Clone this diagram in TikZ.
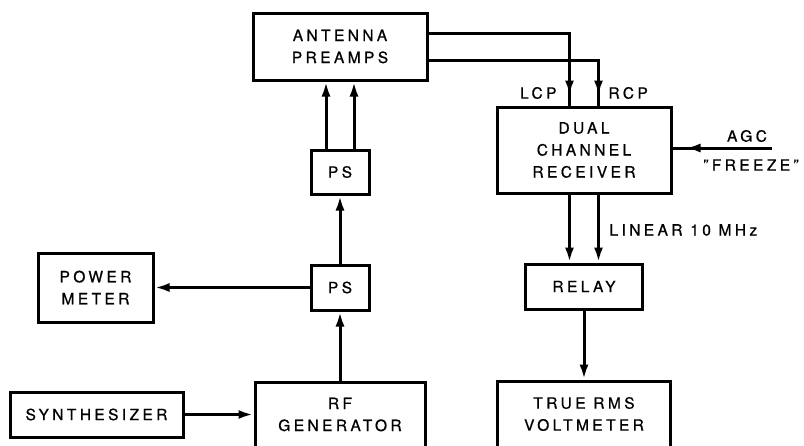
\documentclass[tikz,border=0pt]{standalone}
\usepackage{fontspec}
\setmainfont{TeX Gyre Heros}[LetterSpace=22,FakeBold=0.8]
\usetikzlibrary{arrows.meta,decorations.markings}

\tikzset{every picture/.style={line width=3pt}}
\tikzset{
  blk/.style={draw, line width=3pt, align=center, inner sep=0pt, font=\fontsize{15.5}{22}\selectfont},
  lbl/.style={inner sep=0pt, font=\fontsize{15.5}{22}\selectfont},
  link/.style={line width=3pt, -{Latex[length=15pt,width=9pt]}},
  tipat/.style={line width=3pt, postaction={decorate},
    decoration={markings, mark=at position #1 with {\arrow{Latex[length=15pt,width=9pt]}}}}
}

\begin{document}
\begin{tikzpicture}[x=1pt,y=1pt,yscale=-1,xscale=1]
    \useasboundingbox (0,0) rectangle (804,445);

    %Shape: Rectangle [blocks]
    \node [blk, minimum width=174, minimum height=67] (pre) at (340,46.5) {ANTENNA\\PREAMPS};
    \node [blk, minimum width=58, minimum height=44] (ps2) at (340,172) {PS};
    \node [blk, minimum width=58, minimum height=45] (ps1) at (340,287.5) {PS};
    \node [blk, minimum width=115, minimum height=69] (pm) at (95.5,287.5) {POWER\\METER};
    \node [blk, minimum width=173, minimum height=45] (syn) at (96.5,414.5) {SYNTHESIZER};
    \node [blk, minimum width=170, minimum height=65] (rfg) at (340,414.5) {RF\\GENERATOR};
    \node [blk, minimum width=174, minimum height=86] (rcv) at (584,150) {DUAL\\CHANNEL\\RECEIVER};
    \node [blk, minimum width=117, minimum height=45] (relay) at (584,286.5) {RELAY};
    \node [blk, minimum width=173, minimum height=66] (rms) at (584,414) {TRUE RMS\\VOLTMETER};

    % Text Node
    \node [lbl, anchor=east] (lcp) at (558,93) {LCP};
    \node [lbl, anchor=west] (rcp) at (607,93) {RCP};
    \node [lbl] (agc) at (747,136) {AGC};
    \node [lbl] (frz) at (751,165) {"FREEZE"};
    \node [lbl, anchor=west] (lin) at (608,230) {LINEAR 10 MHz};
    \coordinate (agcin) at (772,148);

    %Connectors
    \draw [link] (syn) -- (rfg);
    \draw [link] (rfg) -- (ps1);
    \draw [link] (ps1) -- (pm);
    \draw [link] (ps1) -- (ps2);
    \draw [link] ([xshift=-14]ps2.north) -- ([xshift=-14]ps2.north |- pre.south);
    \draw [link] ([xshift=14]ps2.north) -- ([xshift=14]ps2.north |- pre.south);
    \draw [tipat=-10pt] ([yshift=13.5]pre.east) -| ([xshift=14.5]rcv.north);
    \draw [tipat=-10pt] ([yshift=-13.5]pre.east) -| ([xshift=-14.5]rcv.north);
    \draw [tipat=-13pt] (agcin) -- (agcin -| rcv.east);
    \draw [link] ([xshift=-14.5]rcv.south) -- ([xshift=-14.5]rcv.south |- relay.north);
    \draw [link] ([xshift=14.5]rcv.south) -- ([xshift=14.5]rcv.south |- relay.north);
    \draw [link] (relay) -- (rms);

\end{tikzpicture}
\end{document}
